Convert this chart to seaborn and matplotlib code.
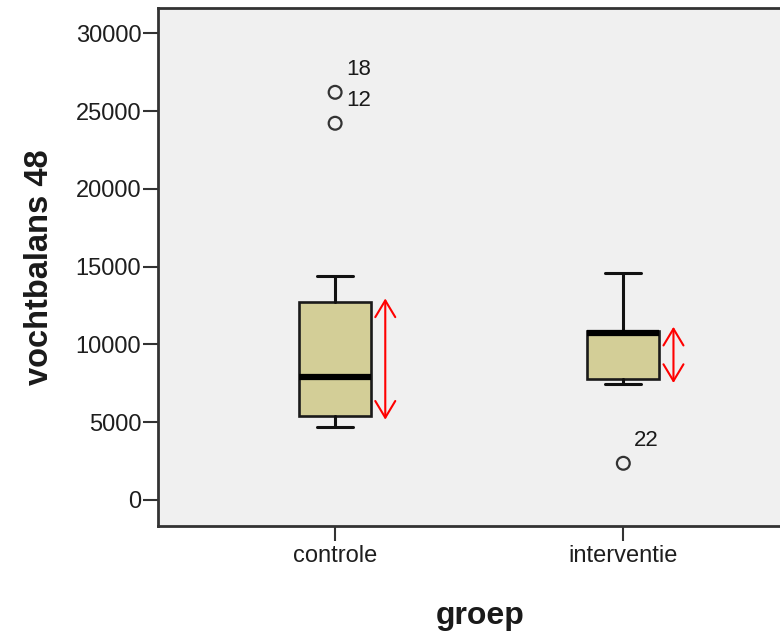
import matplotlib
matplotlib.use('Agg')
import matplotlib.pyplot as plt
from matplotlib.patches import FancyArrowPatch
import seaborn as sns
import pandas as pd

# ---- data ----
groups = ['controle', 'interventie']
whisker_low = [4670, 7460]
q1 = [5420, 7780]
median = [7890, 10720]
q3 = [12700, 10880]
whisker_high = [14400, 14570]
outlier_group = ['controle', 'controle', 'interventie']
outlier_value = [26210, 24220, 2360]
outlier_id = ['18', '12', '22']
y_ticks = [0, 5000, 10000, 15000, 20000, 25000, 30000]
x_title = 'groep'
y_title = 'vochtbalans 48'

sns.set_theme(style='ticks')
plt.rcParams['font.family'] = ['Liberation Sans', 'DejaVu Sans']

fig = plt.figure(figsize=(7.8, 6.34), dpi=100)
W, H = 780, 634
ax_h_px = 526 - 8
ax = fig.add_axes([158 / W, (H - 526) / H, (802 - 158) / W, ax_h_px / H])
ax.set_facecolor('#f0f0f0')

ylim = (-1672, 31630)
ax.set_xlim(-0.6146, 1.62)
ax.set_ylim(*ylim)

positions = list(range(len(groups)))
stats = [dict(label=g, whislo=wl, q1=a, med=m, q3=b, whishi=wh, fliers=[])
         for g, wl, a, m, b, wh in zip(groups, whisker_low, q1, median, q3, whisker_high)]
ax.bxp(stats, positions=positions, widths=0.25, capwidths=0.125, patch_artist=True,
       boxprops=dict(facecolor='#d3ce97', edgecolor='#1a1a1a', linewidth=1.9),
       medianprops=dict(color='black', linewidth=4.5, solid_capstyle='butt'),
       whiskerprops=dict(color='#111111', linewidth=2.2),
       capprops=dict(color='#111111', linewidth=2.2),
       showfliers=False, manage_ticks=False)

# outliers with seaborn
df_out = pd.DataFrame({'pos': [groups.index(g) for g in outlier_group],
                       'value': outlier_value, 'id': outlier_id})
sns.scatterplot(data=df_out, x='pos', y='value', ax=ax, marker='o', s=85,
                facecolors='none', edgecolor='#333333', linewidth=1.6, zorder=5)
for _, r in df_out.iterrows():
    ax.annotate(r['id'], (r['pos'], r['value']), xytext=(11, 23),
                textcoords='offset pixels', fontsize=16, ha='left', va='center',
                color='#1a1a1a')

# red double arrows spanning the IQR (slightly overshooting the box edges)
pad = 4 * (ylim[1] - ylim[0]) / ax_h_px
for i in positions:
    arr = FancyArrowPatch((i + 0.174, q3[i] + pad), (i + 0.174, q1[i] - pad),
                          arrowstyle='<->,head_length=0.6,head_width=0.36',
                          color='red', lw=1.5, shrinkA=0, shrinkB=0,
                          mutation_scale=20, zorder=6)
    ax.add_patch(arr)

ax.set_xticks(positions, groups)
ax.set_yticks(y_ticks)
ax.tick_params(axis='both', direction='out', length=10.5, width=1.5,
               color='#333333', labelsize=17, labelcolor='#1e1e1e')
ax.tick_params(axis='y', pad=1.5)
ax.tick_params(axis='x', pad=3)

for s in ['top', 'left', 'bottom']:
    ax.spines[s].set_color('#333333')
    ax.spines[s].set_linewidth(2)
ax.spines['right'].set_visible(False)

ax.set_xlabel(x_title, fontsize=23, fontweight='bold', color='#1a1a1a')
ax.set_ylabel(y_title, fontsize=23.5, fontweight='bold', color='#1a1a1a')
ax.yaxis.set_label_coords(-0.16, 0.5)
ax.xaxis.set_label_coords(0.5, -0.145)

fig.savefig('out.png', dpi=100)
